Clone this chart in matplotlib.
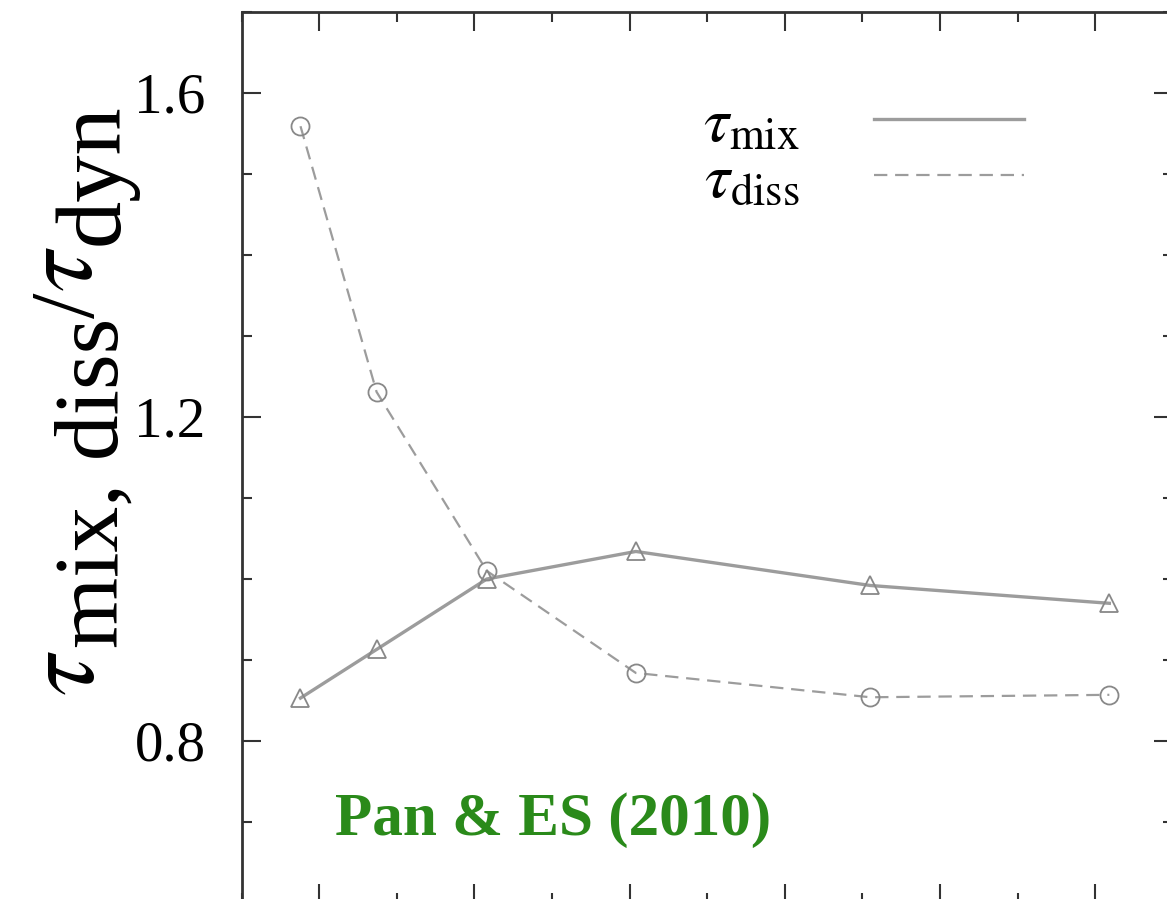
import matplotlib
matplotlib.use("Agg")
import matplotlib.pyplot as plt
from matplotlib.ticker import MultipleLocator

# hodnoty
mach = [0.88, 1.37, 2.08, 3.04, 4.55, 6.09]
tau_mix = [0.853, 0.913, 1.000, 1.034, 0.992, 0.970]
tau_diss = [1.559, 1.231, 1.010, 0.884, 0.854, 0.857]

yticks = [0.8, 1.2, 1.6]
ytick_labels = ["0.8", "1.2", "1.6"]

plt.rcParams["font.family"] = ["Liberation Serif", "DejaVu Serif"]
plt.rcParams["mathtext.fontset"] = "stix"

W, H = 1167, 899
fig = plt.figure(figsize=(W / 100, H / 100), dpi=100)
ax = fig.add_axes([241.5 / W, -4 / H, (1173 - 241.5) / W, 891 / H])

line_grey = "#9c9c9c"
mark_grey = "#888888"

# čáry (bez značek kvůli legendě)
ax.plot(mach, tau_mix, "-", color=line_grey, lw=2.4, label=r"$\tau_{\rm mix}$")
ax.plot(mach, tau_diss, color=line_grey, lw=1.6, dashes=(6, 3.5), label=r"$\tau_{\rm diss}$")
# značky
ax.plot(mach, tau_mix, "^", ls="none", ms=13, mfc="none", mec=mark_grey, mew=1.3)
ax.plot(mach, tau_diss, "o", ls="none", ms=13, mfc="none", mec=mark_grey, mew=1.3)

ax.set_xlim(0.5, 6.5)
ax.set_ylim(0.6, 1.7)
ax.xaxis.set_major_locator(MultipleLocator(1))
ax.xaxis.set_minor_locator(MultipleLocator(0.5))
ax.set_yticks(yticks)
ax.set_yticklabels(ytick_labels)
ax.yaxis.set_minor_locator(MultipleLocator(0.1))
ax.set_xticklabels([])

ax.tick_params(which="both", direction="in", top=True, right=True, color="#333333")
ax.tick_params(which="major", length=14, width=1.5, labelsize=41, pad=26)
ax.tick_params(which="minor", length=7, width=1.5)
for s in ax.spines.values():
    s.set_linewidth(2.0)
    s.set_color("#333333")

ax.legend(loc="upper right", bbox_to_anchor=(0.84, 0.905), frameon=False,
          markerfirst=False, fontsize=46, handlelength=2.35, handletextpad=1.15,
          labelspacing=-0.05, borderpad=0, borderaxespad=0)

ax.text(0.1, 0.093, "Pan & ES (2010)", transform=ax.transAxes, fontsize=44,
        fontweight="bold", color="#2a8a1a", va="center")

# popisek osy y skládaný po kouscích (větší dolní indexy než v mathtextu)
renderer = fig.canvas.get_renderer()
label_parts = [
    (r"$\tau$", 74, 69, 2),
    ("mix, diss", 66, 95, 0),
    ("/", 66, 72, 0),
    (r"$\tau$", 74, 67, 2),
    ("dyn", 68, 95, 0),
]
y = 203
for s, size, xc, gap in label_parts:
    t = fig.text(xc / W, y / H, s, rotation=90, fontsize=size,
                 ha="center", va="bottom")
    bb = t.get_window_extent(renderer)
    y = bb.y1 + gap

fig.savefig("out.png", dpi=100)
